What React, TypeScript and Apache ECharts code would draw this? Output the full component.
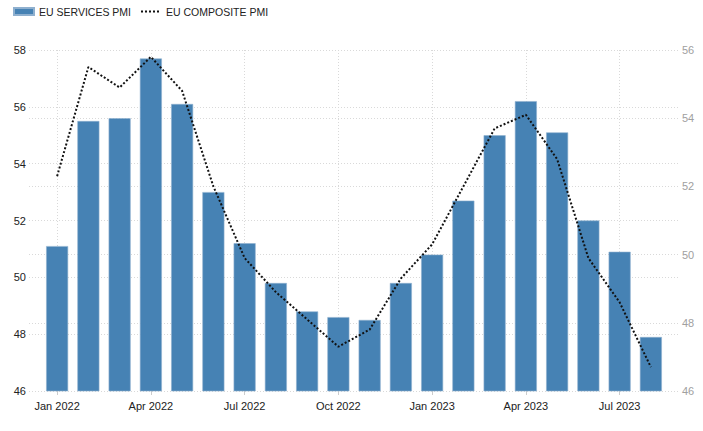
import React, { useEffect, useRef } from "react";
import * as echarts from "echarts";

const categories = [
  "Jan 2022", "Feb 2022", "Mar 2022", "Apr 2022", "May 2022", "Jun 2022",
  "Jul 2022", "Aug 2022", "Sep 2022", "Oct 2022", "Nov 2022", "Dec 2022",
  "Jan 2023", "Feb 2023", "Mar 2023", "Apr 2023", "May 2023", "Jun 2023",
  "Jul 2023", "Aug 2023",
];
const servicesPmi = [
  51.1, 55.5, 55.6, 57.7, 56.1, 53.0, 51.2, 49.8, 48.8, 48.6, 48.5, 49.8,
  50.8, 52.7, 55.0, 56.2, 55.1, 52.0, 50.9, 47.9,
];
const compositePmi = [
  52.3, 55.5, 54.9, 55.8, 54.8, 52.0, 49.9, 48.9, 48.1, 47.3, 47.8, 49.3,
  50.3, 52.0, 53.7, 54.1, 52.8, 49.9, 48.6, 46.7,
];
const tickLabels = ["Jan 2022", "Apr 2022", "Jul 2022", "Oct 2022", "Jan 2023", "Apr 2023", "Jul 2023"];

const FONT = "'Liberation Sans', Arial, sans-serif";

export default function App() {
  const ref = useRef<HTMLDivElement>(null);
  useEffect(() => {
    if (!ref.current) return;
    const chart = echarts.init(ref.current, undefined, { renderer: "svg" });
    const tickIdx = tickLabels.map((l) => categories.indexOf(l));
    const gridLine = { show: true, lineStyle: { color: "#d9d9d9", type: [1, 2] as any, width: 1 } };
    chart.setOption({
      animation: false,
      textStyle: { fontFamily: FONT },
      legend: {
        left: 8,
        top: 0,
        padding: [6, 5],
        itemWidth: 20,
        itemHeight: 7,
        itemGap: 9,
        textStyle: { color: "#222", fontSize: 10.5, fontFamily: FONT },
        data: [
          { name: "EU SERVICES PMI", icon: "rect" },
          { name: "EU COMPOSITE PMI", itemStyle: { opacity: 0 } },
        ],
      },
      grid: { left: 29, right: 24, top: 50, bottom: 40, containLabel: false },
      xAxis: {
        type: "value",
        min: -0.9,
        max: 19.9,
        axisLine: { show: false },
        axisTick: {
          show: true,
          length: 4,
          lineStyle: { color: "#ccc" },
          customValues: tickIdx,
        },
        axisLabel: {
          customValues: tickIdx,
          formatter: (v: number) => categories[Math.round(v)] ?? "",
          color: "#222",
          fontSize: 11,
          margin: 9,
          fontFamily: FONT,
        },
        splitLine: gridLine,
      },
      yAxis: [
        {
          type: "value",
          min: 46,
          max: 58,
          interval: 2,
          axisLine: { show: false },
          axisTick: { show: false },
          axisLabel: { color: "#222", fontSize: 11, margin: 3, fontFamily: FONT },
          splitLine: gridLine,
        },
        {
          type: "value",
          min: 46,
          max: 56,
          interval: 2,
          position: "right",
          axisLine: { show: false },
          axisTick: { show: false },
          axisLabel: { color: "#a0a0a0", fontSize: 11, margin: 3, fontFamily: FONT },
          splitLine: gridLine,
        },
      ],
      series: [
        {
          name: "EU SERVICES PMI",
          type: "bar",
          yAxisIndex: 0,
          barWidth: 22,
          itemStyle: { color: "#4682b4", borderColor: "#8fb0cf", borderWidth: 0.6 },
          data: servicesPmi.map((v, i) => [i, v]),
          z: 2,
        },
        {
          name: "EU COMPOSITE PMI",
          type: "line",
          yAxisIndex: 1,
          symbol: "none",
          lineStyle: { color: "#111", width: 2, type: [2, 2] as any },
          itemStyle: { color: "#111" },
          data: compositePmi.map((v, i) => [i, v]),
          z: 3,
        },
      ],
    });
    return () => chart.dispose();
  }, []);
  return (
    <div
      ref={ref}
      style={{ position: "fixed", left: 0, top: 0, width: 703, height: 431, background: "#fff" }}
    />
  );
}
